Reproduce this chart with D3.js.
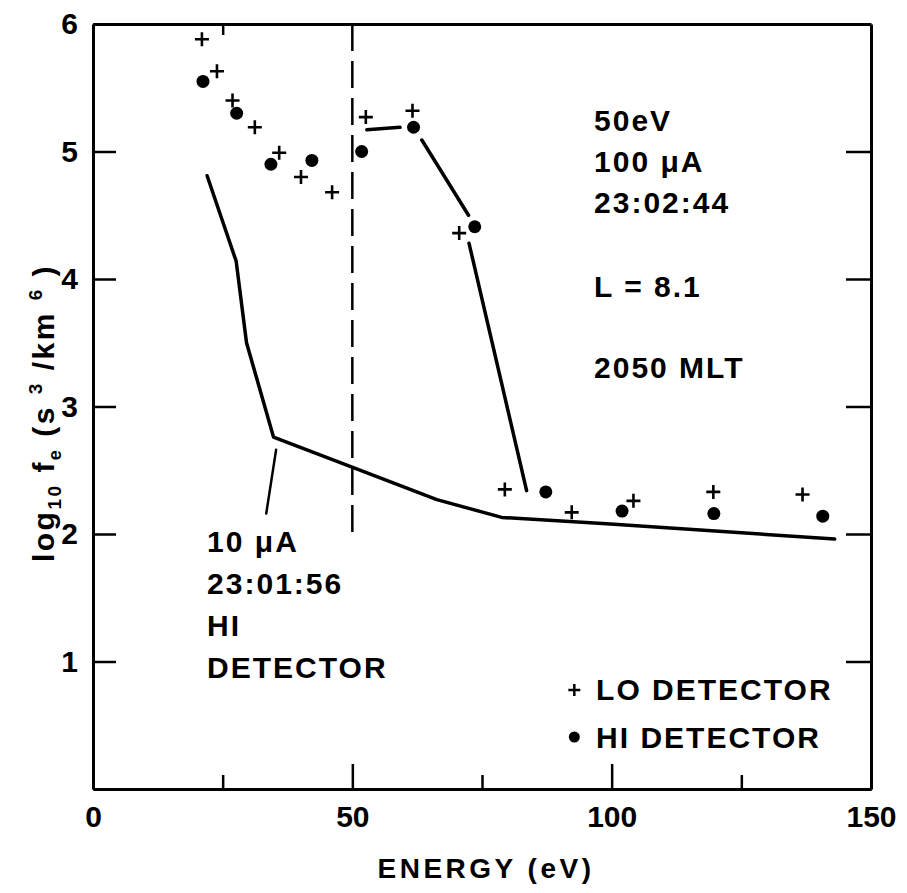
<!DOCTYPE html>
<html><head><meta charset="utf-8">
<script src="https://cdn.jsdelivr.net/npm/d3@7"></script>
<style>body{margin:0;background:#fff}</style>
</head><body>
<svg id="chart" width="907" height="893"></svg>
<script>
// ---- data ----
const loEnergy = [21.0, 23.9, 26.9, 31.2, 35.9, 40.1, 46.1, 52.6, 61.6, 70.6, 79.4, 92.3, 104.2, 119.6, 136.8];
const loLogF   = [5.88, 5.63, 5.40, 5.19, 4.99, 4.80, 4.68, 5.27, 5.32, 4.36, 2.35, 2.17, 2.26, 2.33, 2.31];
const hiEnergy = [21.2, 27.7, 34.3, 42.2, 51.8, 61.8, 73.6, 87.3, 102.0, 119.7, 140.7];
const hiLogF   = [5.55, 5.30, 4.90, 4.93, 5.00, 5.19, 4.41, 2.33, 2.18, 2.16, 2.14];
// 100 uA curve (gaps where it meets the markers)
const curve100Energy = [52.8, 59.2, null, 63.4, 72.4, null, 72.5, 83.6];
const curve100LogF   = [5.17, 5.19, null, 5.09, 4.50, null, 4.28, 2.34];
// 10 uA HI detector curve
const curve10Energy = [22.0, 27.6, 29.6, 34.8, 50.2, 66.3, 78.8, 99.0, 143.0];
const curve10LogF   = [4.81, 4.14, 3.50, 2.76, 2.52, 2.27, 2.13, 2.08, 1.96];
const pointerEnergy = [35.3, 33.4];
const pointerLogF   = [2.66, 2.16];
const beamEnergy = [50, 50];
const beamLogF   = [6, 2];
const xTicks = [0, 50, 100, 150];
const xMinorTicks = [25, 75, 125];
const xTopTicks = [25];
const yTicks = [1, 2, 3, 4, 5, 6];
const yRightTicks = [1, 2, 3, 4, 5];
const annotRight = ["50eV", "100 μA", "23:02:44", "L = 8.1", "2050 MLT"];
const annotLeft = ["10 μA", "23:01:56", "HI", "DETECTOR"];
const legendLabels = ["LO DETECTOR", "HI DETECTOR"];
const xTitle = "ENERGY (eV)";

// ---- layout ----
const svg = d3.select("#chart");
const L = 93, R = 871, T = 24, B = 789;
const x = d3.scaleLinear().domain([0, 150]).range([L, R]);
const y = d3.scaleLinear().domain([0, 6]).range([B, T]);
const FONT = "'Liberation Sans', Arial, Helvetica, sans-serif";

function styleAxis(g) {
  g.selectAll("path.domain").attr("stroke", "#000").attr("stroke-width", 3);
  g.selectAll(".tick line").attr("stroke", "#000").attr("stroke-width", 2.5);
  g.selectAll(".tick text").attr("fill", "#000").attr("font-family", FONT)
    .attr("font-weight", "bold").attr("font-size", 30);
}

// frame / axes
svg.append("g").attr("transform", `translate(0,${B})`)
  .call(d3.axisBottom(x).tickValues(xTicks).tickSizeInner(-25).tickSizeOuter(0).tickPadding(17).tickFormat(d3.format("d")))
  .call(styleAxis);
svg.append("g").attr("transform", `translate(0,${B})`)
  .call(d3.axisBottom(x).tickValues(xMinorTicks).tickSizeInner(-14).tickSizeOuter(0).tickFormat(""))
  .call(styleAxis);
svg.append("g").attr("transform", `translate(0,${T})`)
  .call(d3.axisTop(x).tickValues(xTopTicks).tickSizeInner(-11).tickSizeOuter(0).tickFormat(""))
  .call(styleAxis);
svg.append("g").attr("transform", `translate(${L},0)`)
  .call(d3.axisLeft(y).tickValues(yTicks).tickSizeInner(-23).tickSizeOuter(0).tickPadding(15).tickFormat(d3.format("d")))
  .call(styleAxis);
svg.append("g").attr("transform", `translate(${R},0)`)
  .call(d3.axisRight(y).tickValues(yRightTicks).tickSizeInner(-25).tickSizeOuter(0).tickFormat(""))
  .call(styleAxis);

// axis titles
svg.append("text").attr("x", (L + R) / 2 + 4).attr("y", 878)
  .attr("text-anchor", "middle").attr("font-family", FONT).attr("font-weight", "bold")
  .attr("font-size", 28).attr("letter-spacing", 3.5).text(xTitle);

const yt = svg.append("text")
  .attr("transform", "translate(54,413) rotate(-90)")
  .attr("text-anchor", "middle").attr("font-family", FONT).attr("font-weight", "bold")
  .attr("font-size", 30).attr("letter-spacing", 2.5);
yt.append("tspan").text("log");
yt.append("tspan").attr("font-size", 19).attr("dy", 7).text("10");
yt.append("tspan").attr("dy", -7).text(" f");
yt.append("tspan").attr("font-size", 18).attr("dy", 7).text("e");
yt.append("tspan").attr("dy", -7).text(" (s ");
yt.append("tspan").attr("font-size", 19).attr("dy", -12).text("3");
yt.append("tspan").attr("dy", 12).text(" /km ");
yt.append("tspan").attr("font-size", 19).attr("dy", -12).text("6");
yt.append("tspan").attr("dy", 12).text(" )");

// lines
const lineGen = d3.line().defined(d => d[0] !== null).x(d => x(d[0])).y(d => y(d[1]));
const drawLine = (ex, ly, w, dash) => svg.append("path")
  .datum(ex.map((e, i) => [e, ly[i]]))
  .attr("d", lineGen).attr("fill", "none").attr("stroke", "#000")
  .attr("stroke-width", w).attr("stroke-linecap", dash ? "butt" : "round")
  .attr("stroke-linejoin", "round").attr("stroke-dasharray", dash || null);

drawLine(beamEnergy, beamLogF, 2.5, "27,10");
drawLine(curve10Energy, curve10LogF, 3.5);
drawLine(curve100Energy, curve100LogF, 3.5);
drawLine(pointerEnergy, pointerLogF, 2.5);

// markers
const plusPath = "M-7,0H7M0,-7V7";
svg.append("g").selectAll("path").data(loEnergy.map((e, i) => [e, loLogF[i]])).join("path")
  .attr("transform", d => `translate(${x(d[0])},${y(d[1])})`)
  .attr("d", plusPath).attr("stroke", "#000").attr("stroke-width", 2.6).attr("fill", "none");
svg.append("g").selectAll("circle").data(hiEnergy.map((e, i) => [e, hiLogF[i]])).join("circle")
  .attr("cx", d => x(d[0])).attr("cy", d => y(d[1])).attr("r", 6.5).attr("fill", "#000");

// annotations
const annStyle = s => s.attr("font-family", FONT).attr("font-weight", "bold")
  .attr("font-size", 30).attr("letter-spacing", 2).attr("fill", "#000");
const rightBase = [131, 172, 213, 297, 378];
svg.append("g").selectAll("text").data(annotRight).join("text")
  .attr("x", x(96.6)).attr("y", (d, i) => rightBase[i]).text(d => d).call(annStyle);
const leftBase = [552, 594, 636, 678];
svg.append("g").selectAll("text").data(annotLeft).join("text")
  .attr("x", x(22.0)).attr("y", (d, i) => leftBase[i]).text(d => d).call(annStyle);

// legend
const legBase = [700, 748];
const leg = svg.append("g");
leg.selectAll("text").data(legendLabels).join("text")
  .attr("x", x(97.0)).attr("y", (d, i) => legBase[i]).text(d => d).call(annStyle);
leg.append("path").attr("transform", `translate(${x(92.8)},${legBase[0] - 10})`)
  .attr("d", "M-6,0H6M0,-6V6").attr("stroke", "#000").attr("stroke-width", 2.5);
leg.append("circle").attr("cx", x(92.8)).attr("cy", legBase[1] - 11).attr("r", 5.5).attr("fill", "#000");
</script>
</body></html>
